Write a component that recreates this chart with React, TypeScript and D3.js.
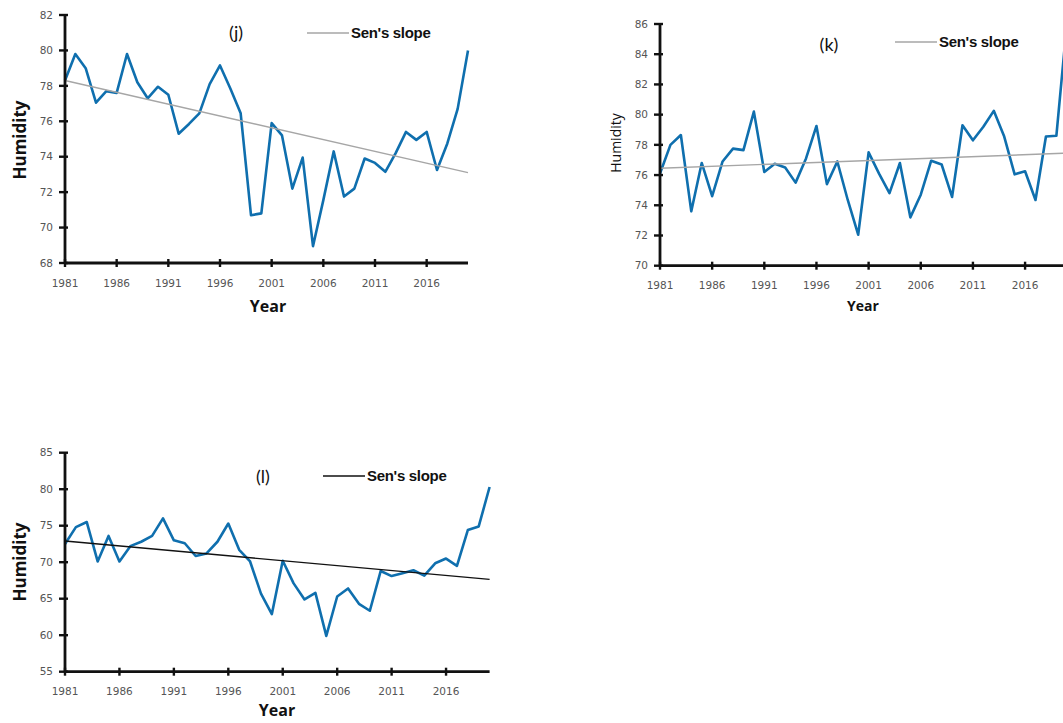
import React from 'react'
import * as d3 from 'd3'

// years 1981..2020
const years: number[] = d3.range(1981, 2021)
const xTickYears: number[] = [1981, 1986, 1991, 1996, 2001, 2006, 2011, 2016]

const humidityJ: number[] = [
  78.3, 79.8, 79.0, 77.05, 77.7, 77.6, 79.8, 78.2, 77.3, 77.95,
  77.5, 75.3, 75.85, 76.45, 78.1, 79.15, 77.85, 76.45, 70.7, 70.8,
  75.9, 75.2, 72.2, 73.95, 68.95, 71.55, 74.3, 71.75, 72.2, 73.9,
  73.65, 73.15, 74.2, 75.4, 74.95, 75.4, 73.25, 74.75, 76.7, 80.0,
]
const humidityK: number[] = [
  76.1, 78.0, 78.65, 73.6, 76.8, 74.6, 76.9, 77.75, 77.65, 80.2,
  76.2, 76.75, 76.5, 75.5, 77.1, 79.25, 75.4, 76.9, 74.35, 72.05,
  77.5, 76.1, 74.8, 76.8, 73.2, 74.7, 76.95, 76.7, 74.55, 79.3,
  78.3, 79.2, 80.25, 78.55, 76.05, 76.25, 74.35, 78.55, 78.6, 86.0,
]
const humidityL: number[] = [
  72.5, 74.8, 75.5, 70.1, 73.6, 70.1, 72.2, 72.8, 73.6, 76.0,
  73.0, 72.6, 70.85, 71.2, 72.8, 75.3, 71.7, 70.1, 65.7, 62.9,
  70.2, 67.1, 64.9, 65.8, 59.9, 65.3, 66.4, 64.3, 63.35, 68.8,
  68.1, 68.5, 68.9, 68.15, 69.85, 70.5, 69.5, 74.4, 74.9, 80.3,
]

// Sen's slope trend: value at first and last year
const senJ: number[] = [78.3, 73.1]
const senK: number[] = [76.45, 77.45]
const senL: number[] = [72.9, 67.65]

const yTicksJ: number[] = d3.range(68, 83, 2)
const yTicksK: number[] = d3.range(70, 87, 2)
const yTicksL: number[] = d3.range(55, 86, 5)

const BLUE = '#0f6fae'

type PanelProps = {
  values: number[]
  sen: number[]
  senColor: string
  yTicks: number[]
  xRange: [number, number]
  yRange: [number, number]
  label: string
  labelPos: [number, number]
  legendPos: [number, number]
  yTitle: { x: number; y: number; size: number; bold: boolean }
  xTitle: { x: number; y: number; size: number }
  tickFont: number
}

function Panel(p: PanelProps) {
  const x = d3.scaleLinear().domain([1981, 2020]).range(p.xRange)
  const y = d3.scaleLinear().domain(d3.extent(p.yTicks) as [number, number]).range(p.yRange)
  const line = d3.line<number>()
    .x((_, i) => x(years[i]))
    .y(d => y(d))
  const x0 = p.xRange[0]
  const yBottom = p.yRange[0]
  const yTop = p.yRange[1]
  const tickFont = 'DejaVu Sans, sans-serif'

  return (
    <g>
      <path d={line(p.values) || ''} fill="none" stroke={BLUE} strokeWidth={2.6} strokeLinejoin="round" />
      <line x1={x(1981)} x2={x(2020)} y1={y(p.sen[0])} y2={y(p.sen[1])} stroke={p.senColor} strokeWidth={1.4} />

      {/* y axis */}
      <line x1={x0} x2={x0} y1={yBottom} y2={yTop} stroke="#111" strokeWidth={2.8} />
      {p.yTicks.map(t => (
        <g key={t}>
          <line x1={x0 - 6} x2={x0 + 3} y1={y(t)} y2={y(t)} stroke="#111" strokeWidth={2.4} />
          <text x={x0 - 12} y={y(t)} dy="0.35em" textAnchor="end" fontFamily={tickFont}
            fontSize={p.tickFont} fill="#555">{t}</text>
        </g>
      ))}

      {/* x axis */}
      <line x1={x0} x2={p.xRange[1]} y1={yBottom} y2={yBottom} stroke="#111" strokeWidth={2.8} />
      {xTickYears.map(t => (
        <g key={t}>
          <line x1={x(t)} x2={x(t)} y1={yBottom - 4} y2={yBottom + 4} stroke="#111" strokeWidth={2.4} />
          <text x={x(t)} y={yBottom + 20} dy="0.35em" textAnchor="middle" fontFamily={tickFont}
            fontSize={p.tickFont} fill="#555">{t}</text>
        </g>
      ))}

      <text x={p.labelPos[0]} y={p.labelPos[1]} dy="0.35em" textAnchor="middle"
        fontFamily="Lato, sans-serif" fontSize={18} fill="#111">{p.label}</text>

      <line x1={p.legendPos[0]} x2={p.legendPos[0] + 42} y1={p.legendPos[1]} y2={p.legendPos[1]}
        stroke={p.senColor} strokeWidth={1.4} />
      <text x={p.legendPos[0] + 44} y={p.legendPos[1]} dy="0.35em" fontFamily="Liberation Sans, Arial, sans-serif"
        fontWeight="bold" fontSize={15} letterSpacing={-0.3} fill="#111">Sen's slope</text>

      <text transform={`translate(${p.yTitle.x},${p.yTitle.y}) rotate(-90)`} textAnchor="middle"
        dy="0.35em" fontFamily="Open Sans, sans-serif" fontWeight={p.yTitle.bold ? 'bold' : 'normal'}
        fontSize={p.yTitle.size} fill="#111">Humidity</text>
      <text x={p.xTitle.x} y={p.xTitle.y} dy="0.35em" textAnchor="middle" fontFamily="Open Sans, sans-serif"
        fontWeight="bold" fontSize={p.xTitle.size} fill="#111">Year</text>
    </g>
  )
}

export default function App() {
  return (
    <svg width={1063} height={723} style={{ position: 'absolute', left: 0, top: 0, background: '#fff' }}>
      <Panel values={humidityJ} sen={senJ} senColor="#a6a6a6" yTicks={yTicksJ}
        xRange={[65, 468]} yRange={[263, 15]} label="(j)" labelPos={[236, 33]} legendPos={[307, 33]}
        yTitle={{ x: 20, y: 140, size: 17, bold: true }} xTitle={{ x: 268, y: 306, size: 16 }} tickFont={10.5} />
      <Panel values={humidityK} sen={senK} senColor="#a6a6a6" yTicks={yTicksK}
        xRange={[660, 1066.8]} yRange={[265.7, 24]} label="(k)" labelPos={[829, 45]} legendPos={[895, 42]}
        yTitle={{ x: 616, y: 143, size: 14, bold: false }} xTitle={{ x: 863, y: 306, size: 14 }} tickFont={10.5} />
      <Panel values={humidityL} sen={senL} senColor="#111" yTicks={yTicksL}
        xRange={[65, 489.6]} yRange={[671.7, 452.7]} label="(l)" labelPos={[263, 477]} legendPos={[323, 476]}
        yTitle={{ x: 20, y: 562, size: 17, bold: true }} xTitle={{ x: 277, y: 710, size: 16 }} tickFont={10.5} />
    </svg>
  )
}
